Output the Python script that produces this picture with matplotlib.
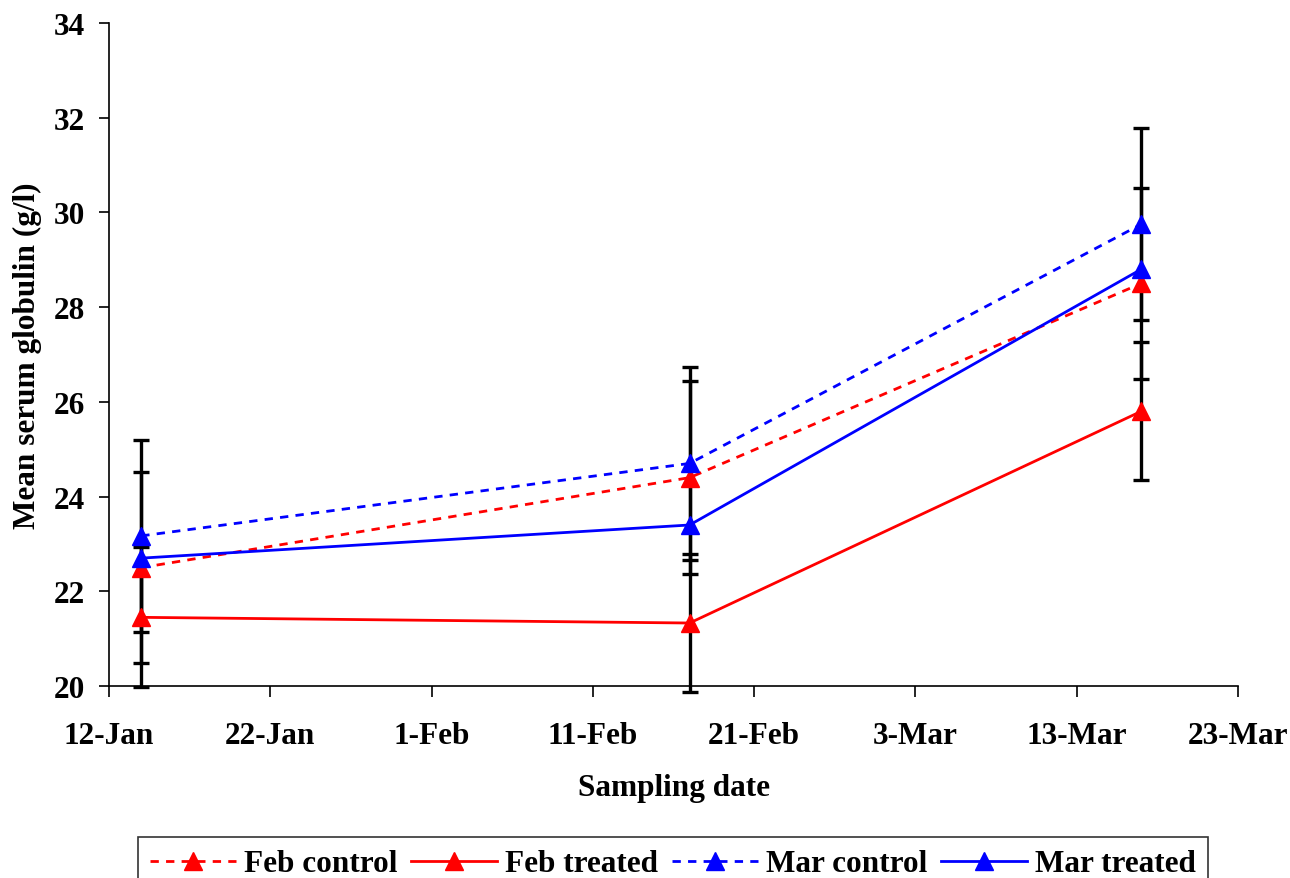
import matplotlib
matplotlib.use("Agg")
import matplotlib.pyplot as plt
import matplotlib.dates as mdates
import numpy as np
from datetime import date

plt.rcParams['font.family'] = ['Liberation Serif', 'DejaVu Serif']
plt.rcParams['font.weight'] = 'bold'

sample_dates = [date(2023, 1, 14), date(2023, 2, 17), date(2023, 3, 17)]
series_names = ["Feb control", "Feb treated", "Mar control", "Mar treated"]
feb_control = [22.5, 24.4, 28.5]
feb_treated = [21.45, 21.33, 25.8]
mar_control = [23.17, 24.7, 29.75]
mar_treated = [22.7, 23.4, 28.8]
feb_control_err = [2.02, 2.03, 2.01]
feb_treated_err = [1.48, 1.45, 1.46]
mar_control_err = [2.03, 2.03, 2.03]
mar_treated_err = None

tick_dates = [date(2023, 1, 12), date(2023, 1, 22), date(2023, 2, 1), date(2023, 2, 11),
              date(2023, 2, 21), date(2023, 3, 3), date(2023, 3, 13), date(2023, 3, 23)]
tick_labels = ["12-Jan", "22-Jan", "1-Feb", "11-Feb", "21-Feb", "3-Mar", "13-Mar", "23-Mar"]
y_ticks = [20, 22, 24, 26, 28, 30, 32, 34]

FS = 22.5

fig = plt.figure(figsize=(12.9, 8.79), dpi=100)
ax = fig.add_axes([109/1290, 1-687/879, (1238-109)/1290, (687-24)/879])

x = mdates.date2num(sample_dates)
dash = (0, (3, 2.6))
specs = [
    (feb_control, feb_control_err, 'red', dash),
    (feb_treated, feb_treated_err, 'red', '-'),
    (mar_control, mar_control_err, 'blue', dash),
    (mar_treated, mar_treated_err, 'blue', '-'),
]

for vals, err, col, ls in specs:
    if err is not None:
        ax.errorbar(x, vals, yerr=err, fmt='none', ecolor='black', elinewidth=2.4,
                    capsize=6, capthick=2.4, zorder=2, clip_on=False)

handles = []
for name, (vals, err, col, ls) in zip(series_names, specs):
    h, = ax.plot(x, vals, color=col, linestyle=ls, linewidth=2, marker='^',
                 markersize=13.5, markerfacecolor=col, markeredgecolor=col, zorder=3, label=name)
    handles.append(h)

ax.set_xlim(mdates.date2num(tick_dates[0]), mdates.date2num(tick_dates[-1]))
ax.set_ylim(20, 34)
ax.set_xticks(mdates.date2num(tick_dates))
ax.set_xticklabels(tick_labels)
ax.set_yticks(y_ticks)
ax.set_yticklabels([str(v) for v in y_ticks])
ax.spines['top'].set_visible(False)
ax.spines['right'].set_visible(False)
for s in ['left', 'bottom']:
    ax.spines[s].set_linewidth(1.2)
ax.tick_params(axis='x', direction='out', length=8, width=1.2, labelsize=FS, pad=17)
ax.tick_params(axis='y', direction='out', length=7, width=1.2, labelsize=FS, pad=10)
for lab in ax.get_xticklabels() + ax.get_yticklabels():
    lab.set_fontweight('bold')

ax.set_xlabel("Sampling date", fontsize=FS, fontweight='bold', labelpad=17)
ax.set_ylabel("Mean serum globulin (g/l)", fontsize=FS, fontweight='bold', labelpad=9)

leg = fig.legend(handles=handles, loc='upper center', bbox_to_anchor=(673/1290, 1-838/879),
                 ncol=4, frameon=True, fancybox=False, edgecolor='black',
                 prop={'weight': 'bold', 'size': FS}, handlelength=2.75, columnspacing=0.45,
                 handletextpad=0.25, borderpad=0.4, borderaxespad=0)
leg.get_frame().set_linewidth(1.2)

fig.savefig("out.png", dpi=100)
